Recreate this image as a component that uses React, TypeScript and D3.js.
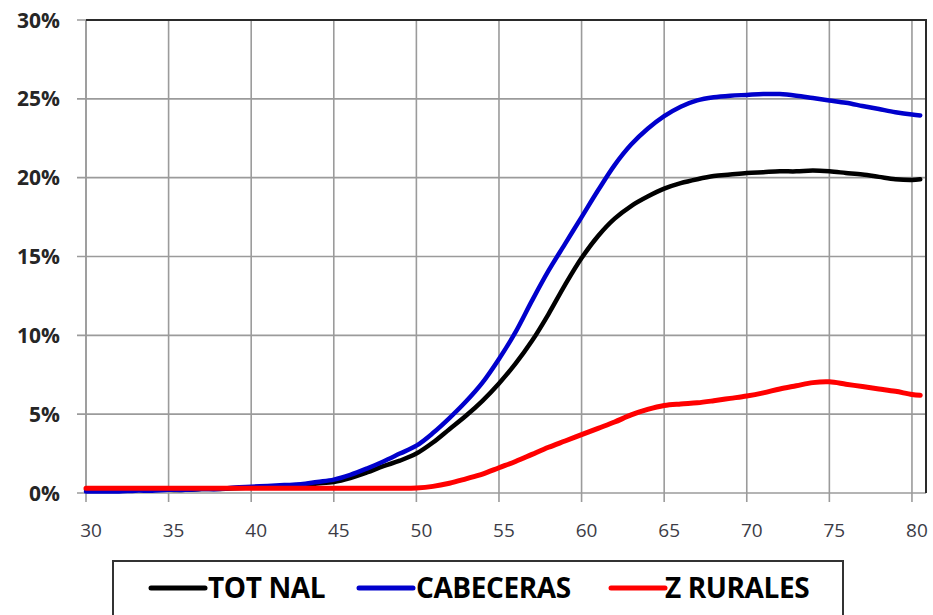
import React from "react";
import * as d3 from "d3";

// ages on the x axis (last point sits just past 80)
const ages = [
  30, 31, 32, 33, 34, 35, 36, 37, 38, 39, 40, 41, 42, 43, 44, 45, 46, 47, 48, 49,
  50, 51, 52, 53, 54, 55, 56, 57, 58, 59, 60, 61, 62, 63, 64, 65, 66, 67, 68, 69,
  70, 71, 72, 73, 74, 75, 76, 77, 78, 79, 80, 80.5,
];

const totNal = [
  0.2, 0.2, 0.2, 0.2, 0.2, 0.2, 0.2, 0.25, 0.25, 0.3, 0.35, 0.4, 0.45, 0.5, 0.6, 0.7,
  0.95, 1.3, 1.7, 2.05, 2.5, 3.2, 4.05, 4.9, 5.85, 6.95, 8.2, 9.65, 11.35, 13.2, 14.9,
  16.3, 17.4, 18.2, 18.8, 19.3, 19.65, 19.9, 20.1, 20.2, 20.3, 20.35, 20.4, 20.4,
  20.45, 20.4, 20.3, 20.2, 20.05, 19.9, 19.85, 19.9,
];

const cabeceras = [
  0.1, 0.1, 0.1, 0.15, 0.15, 0.2, 0.2, 0.25, 0.25, 0.35, 0.4, 0.45, 0.5, 0.55, 0.7,
  0.85, 1.15, 1.55, 2.0, 2.5, 3.0, 3.8, 4.75, 5.8, 7.0, 8.5, 10.2, 12.2, 14.1, 15.8,
  17.5, 19.2, 20.8, 22.1, 23.1, 23.9, 24.5, 24.9, 25.1, 25.2, 25.25, 25.3, 25.3,
  25.2, 25.05, 24.9, 24.75, 24.55, 24.35, 24.15, 24.0, 23.95,
];

const zRurales = [
  0.3, 0.3, 0.3, 0.3, 0.3, 0.3, 0.3, 0.3, 0.3, 0.3, 0.3, 0.3, 0.3, 0.3, 0.3, 0.3,
  0.3, 0.3, 0.3, 0.3, 0.32, 0.42, 0.62, 0.9, 1.2, 1.6, 2.0, 2.45, 2.9, 3.3, 3.7, 4.1,
  4.5, 4.95, 5.3, 5.55, 5.65, 5.72, 5.85, 6.0, 6.15, 6.35, 6.6, 6.8, 7.0, 7.05, 6.9,
  6.75, 6.6, 6.45, 6.25, 6.2,
];

const xTicks = [30, 35, 40, 45, 50, 55, 60, 65, 70, 75, 80];
const yTicks = [0, 5, 10, 15, 20, 25, 30];

const series = [
  { name: "TOT NAL", values: totNal, color: "#000000", width: 4.5 },
  { name: "CABECERAS", values: cabeceras, color: "#0000cc", width: 4.5 },
  { name: "Z RURALES", values: zRurales, color: "#ff0000", width: 5 },
];

const W = 933;
const H = 615;
const left = 86;
const right = 926;
const top = 20;
const bottom = 493;

export default function App() {
  const x = d3.scaleLinear().domain([30, 80.85]).range([left, right]);
  const y = d3.scaleLinear().domain([0, 30]).range([bottom, top]);

  const line = d3
    .line<number>()
    .x((_, i) => x(ages[i]))
    .y((d) => y(d))
    .curve(d3.curveCatmullRom.alpha(0.5));

  const legendItems = [
    { lx: 151, tx: 208 },
    { lx: 359, tx: 416 },
    { lx: 611, tx: 665 },
  ];

  return (
    <svg
      width={W}
      height={H}
      style={{ position: "absolute", left: 0, top: 0, background: "#fff" }}
    >
      {/* grid */}
      {yTicks.map((t) => (
        <line
          key={"gy" + t}
          x1={left - 9}
          x2={right}
          y1={y(t)}
          y2={y(t)}
          stroke="#9b9b9b"
          strokeWidth={1.6}
        />
      ))}
      {xTicks.map((t) => (
        <line
          key={"gx" + t}
          x1={x(t)}
          x2={x(t)}
          y1={top}
          y2={bottom + 9}
          stroke="#9b9b9b"
          strokeWidth={1.6}
        />
      ))}
      <line x1={left} x2={left} y1={top} y2={bottom} stroke="#9b9b9b" strokeWidth={1.6} />
      {/* frame top / right */}
      <line x1={left} x2={right + 1} y1={top} y2={top} stroke="#2a2a2a" strokeWidth={2} />
      <line x1={right} x2={right} y1={top} y2={bottom} stroke="#2a2a2a" strokeWidth={2} />

      {/* y labels */}
      {yTicks.map((t) => (
        <text
          key={"ly" + t}
          x={60}
          y={y(t) + 7.5}
          textAnchor="end"
          fontFamily="'Open Sans', sans-serif"
          fontWeight={700}
          fontSize={21}
          fill="#262626"
        >
          {t}%
        </text>
      ))}
      {/* x labels */}
      {xTicks.map((t) => (
        <text
          key={"lx" + t}
          x={x(t) + 5}
          y={537}
          textAnchor="middle"
          fontFamily="'Open Sans', sans-serif"
          fontSize={19}
          fill="#3c3c46"
        >
          {t}
        </text>
      ))}

      {/* series */}
      {series.map((s) => (
        <path
          key={s.name}
          d={line(s.values) || ""}
          fill="none"
          stroke={s.color}
          strokeWidth={s.width}
          strokeLinejoin="round"
          strokeLinecap="round"
        />
      ))}

      {/* legend */}
      <rect x={113} y={561} width={730} height={70} fill="none" stroke="#333" strokeWidth={2} />
      {series.map((s, i) => (
        <g key={"lg" + s.name}>
          <line
            x1={legendItems[i].lx}
            x2={legendItems[i].lx + 54}
            y1={588}
            y2={588}
            stroke={s.color}
            strokeWidth={5}
            strokeLinecap="round"
          />
          <text
            x={legendItems[i].tx}
            y={598}
            fontFamily="'Open Sans', sans-serif"
            fontWeight={700}
            fontSize={28}
            letterSpacing={-0.4}
            fill="#000"
          >
            {s.name}
          </text>
        </g>
      ))}
    </svg>
  );
}
